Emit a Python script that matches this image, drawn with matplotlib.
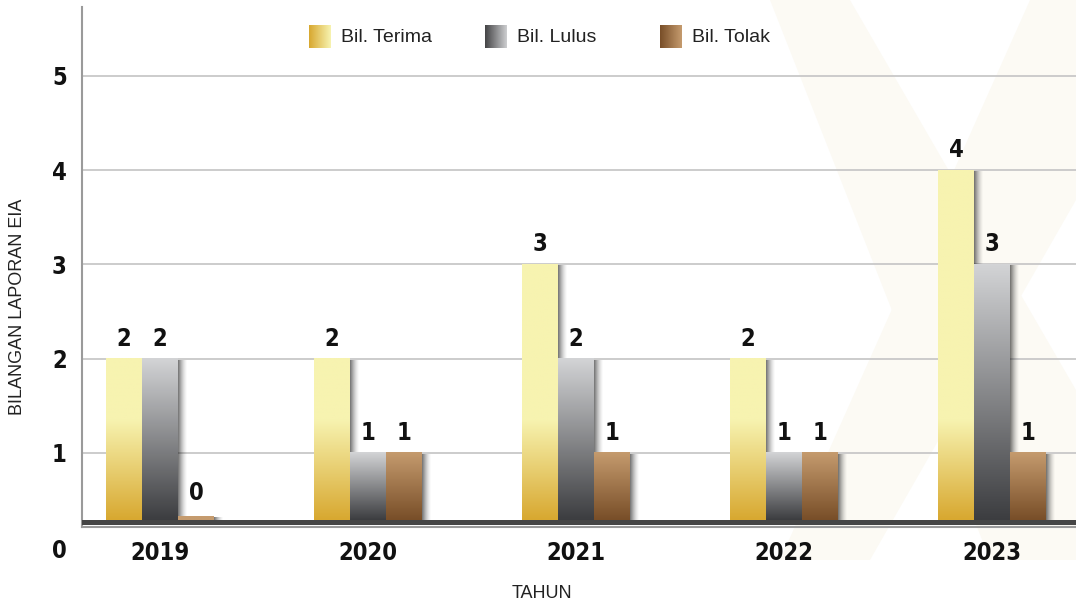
import numpy as np
import matplotlib
matplotlib.use("Agg")
import matplotlib.pyplot as plt
from matplotlib.patches import Polygon

years = ["2019", "2020", "2021", "2022", "2023"]
terima = [2, 2, 3, 2, 4]
lulus = [2, 1, 2, 1, 3]
tolak = [0, 1, 1, 1, 1]
series_names = ["Bil. Terima", "Bil. Lulus", "Bil. Tolak"]
yticks = [1, 2, 3, 4, 5]

BOLD = dict(family=["Liberation Sans Narrow", "DejaVu Sans"], fontstretch="condensed",
            fontweight="bold", fontsize=17)
REG = ["Liberation Sans", "DejaVu Sans"]

# (bottom colour, top colour) for each series
gold = ((216, 168, 48), (247, 243, 176))
grey = ((60, 61, 64), (211, 212, 214))
brown = ((120, 78, 40), (197, 155, 110))

fig = plt.figure(figsize=(10.76, 6.06), dpi=100)
W, H = 1076, 606
ax = fig.add_axes([82 / W, 1 - 527 / H, (W - 82) / W, 520 / H])
ax.set_facecolor("none")
ax.set_zorder(1)

# faint watermark behind the chart
for pts in [
    [(770, 0), (850, 0), (1076, 390), (1076, 560), (990, 560)],
    [(1076, 0), (1030, 0), (780, 560), (870, 560), (1076, 200)],
]:
    fig.patches.append(Polygon([(px / W, 1 - py / H) for px, py in pts], closed=True,
                               transform=fig.transFigure, facecolor="#fcfaf4",
                               edgecolor="none", zorder=-1))

ymin, ymax = 0.215, 5.73
base = 0.289
width = 0.173
x = np.arange(len(years))


def vgrad(c0, c1, n=200):
    t = np.linspace(0, 1, n)[:, None]
    return (np.array(c0) * (1 - t) + np.array(c1) * t) / 255.0


for v in yticks:
    ax.axhline(v, color="#c8c8c8", lw=1.3, zorder=1)

series = [terima, lulus, tolak]
cols = [gold, grey, brown]
for k, (vals, (c0, c1)) in enumerate(zip(series, cols)):
    heights = [max(v - base, 0.04) for v in vals]
    bars = ax.bar(x + (k - 1) * width, heights, width, bottom=base,
                  color="none", edgecolor="none", zorder=3)
    for b, v in zip(bars, vals):
        x0, y0, w, h = b.get_x(), b.get_y(), b.get_width(), b.get_height()
        y1 = y0 + h
        if k == 0:
            # gold fades to pale at a fixed level
            ys = np.linspace(y0, y1, 200)
            t = np.clip((ys - base) / (1.35 - base), 0, 1)[:, None]
            img = (np.array(c0) * (1 - t) + np.array(c1) * t) / 255.0
        elif v == 0:
            img = vgrad(c1, c1, 2)
        else:
            img = vgrad(c0, c1)
        img = img[:, None, :]
        ax.imshow(img, extent=[x0, x0 + w, y0, y1], origin="lower",
                  aspect="auto", interpolation="bilinear", zorder=3)
        # soft shadow on the right
        sh = np.zeros((1, 20, 4))
        sh[0, :, 3] = 0.55 * np.linspace(1, 0, 20) ** 1.6
        ax.imshow(sh, extent=[x0 + w, x0 + w + 0.045, y0, y1 - 0.015], origin="lower",
                  aspect="auto", interpolation="bilinear", zorder=2.5)
        off = 11 if v == 0 else 8
        ax.annotate(str(v), (x0 + w / 2, y1), xytext=(0, off * 0.72), textcoords="offset points",
                    ha="center", va="bottom", color="#111111", zorder=5, **BOLD)

# dark baseline
ax.axhline(0.263, color="#454545", lw=3.6, zorder=4)

ax.set_xlim(-0.375, 4.404)
ax.set_ylim(ymin, ymax)
ax.set_yticks(yticks)
ax.set_yticklabels([str(v) for v in yticks], **BOLD)
ax.set_xticks(x)
ax.set_xticklabels(years, **BOLD)
ax.tick_params(axis="y", length=0, pad=11, colors="#111111")
ax.tick_params(axis="x", length=0, pad=10, colors="#111111")
ax.text(-15 / 994, -0.04, "0", transform=ax.get_yaxis_transform(), ha="right", va="center",
        color="#111111", clip_on=False, **BOLD)

for s in ["top", "right"]:
    ax.spines[s].set_visible(False)
ax.spines["left"].set_color("#9a9a9a")
ax.spines["left"].set_linewidth(1.5)
ax.spines["bottom"].set_color("#9a9a9a")
ax.spines["bottom"].set_linewidth(1.5)

fig.text(18 / W, 1 - 307 / H, "BILANGAN LAPORAN EIA", rotation=90, ha="center", va="center",
         fontsize=13, family=REG, color="#222222")
fig.text(542 / W, 1 - 594 / H, "TAHUN", ha="center", va="center",
         fontsize=13, family=REG, color="#222222")

# legend
legend_x = [309, 485, 660]
legend_cols = [gold, ((68, 68, 70), (205, 206, 208)), brown]
for name, (c0, c1), lx in zip(series_names, legend_cols, legend_x):
    la = fig.add_axes([lx / W, 1 - 48 / H, 22 / W, 23 / H])
    t = np.linspace(0, 1, 50)[None, :, None]
    la.imshow((np.array(c0) * (1 - t) + np.array(c1) * t) / 255.0, aspect="auto",
              interpolation="bilinear")
    la.axis("off")
    fig.text((lx + 32) / W, 1 - 38 / H, name, ha="left", va="center",
             fontsize=14, family=REG, color="#222222")

fig.savefig("out.png", dpi=100)
